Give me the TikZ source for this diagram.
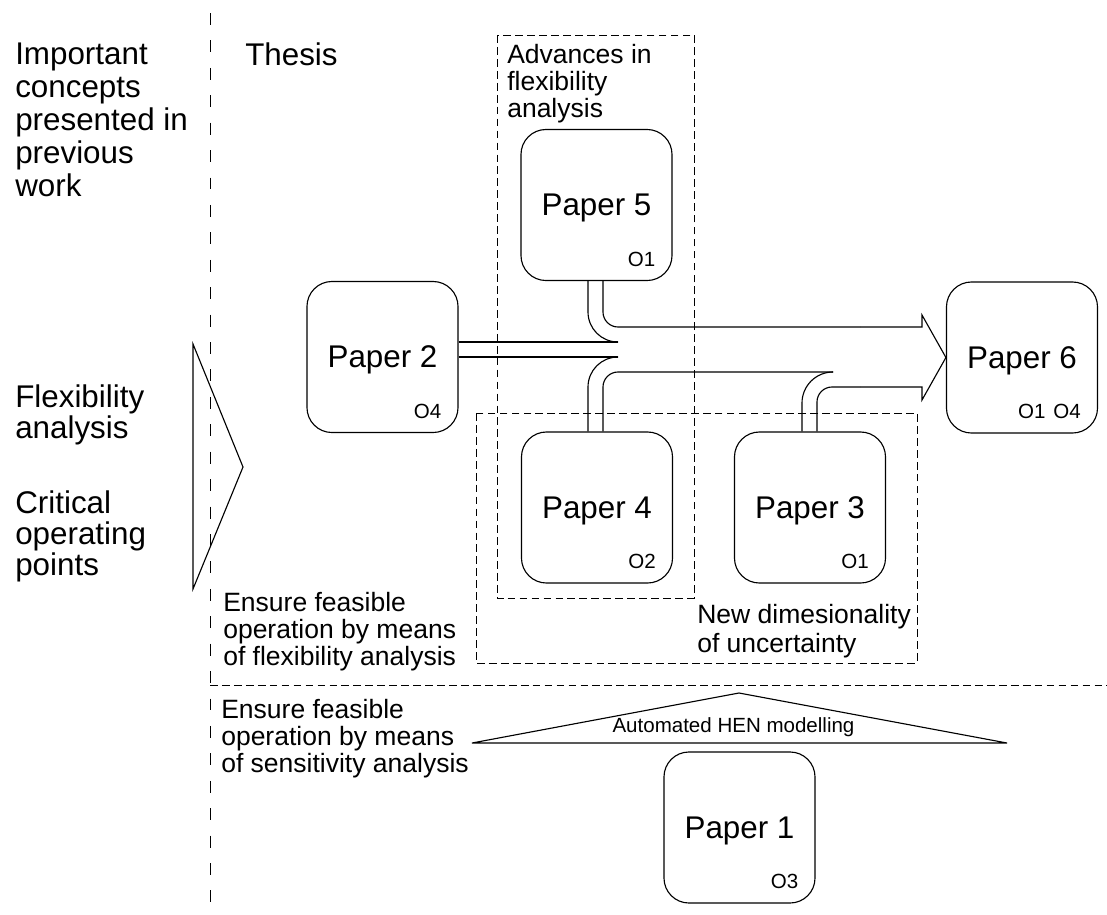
\documentclass[tikz,border=0pt]{standalone}
\usepackage{fontspec}
\setmainfont{Liberation Sans}
\usetikzlibrary{calc}
\newcommand{\headtext}{\fontsize{22.3}{23.5}\selectfont}
\newcommand{\notetext}{\fontsize{18.85}{19.2}\selectfont}
\newcommand{\tagtext}{\fontsize{14.6}{16}\selectfont}
\tikzset{
  paper/.style={draw, line width=0.8pt, rounded corners=0.625cm, minimum width=3.775cm, minimum height=3.775cm, inner sep=0pt, font=\headtext, text depth=0pt},
  otag/.style={font=\tagtext, anchor=base east, inner sep=0pt},
  heading/.style={font=\headtext, align=left, anchor=north west, inner sep=0pt},
  note/.style={font=\notetext, align=left, anchor=north west, inner sep=0pt},
  group/.style={line width=0.7pt, dash pattern=on 5.5pt off 3pt},
  divider/.style={line width=0.7pt, dash pattern=on 8.5pt off 11pt},
  pipe/.style={line width=0.8pt},
}

\begin{document}
\begin{tikzpicture}[x=0.025cm, y=-0.025cm]
  \useasboundingbox (0,0) rectangle (1107,915);
  % dividers
  \draw[divider] (210,13) -- (210,915);
  \draw[group] (210,685) -- (1107,685);
  % left column
  \node[heading] (prev) at (15,42.5) {Important\\concepts\\presented in\\previous\\work};
  \node[heading] (thesis) at (245,42.5) {Thesis};
  \node[heading, font=\fontsize{22.3}{22}\selectfont] (flex) at (15,384.5) {Flexibility\\analysis};
  \node[heading, font=\fontsize{22.3}{22}\selectfont] (crit) at (15,490.5) {Critical\\operating\\points};
  \draw[pipe] (193,344) -- (243,467) -- (193,589) -- cycle;
  % groups
  \draw[group] (497,35) rectangle (694,598);
  \draw[group] (476,413) rectangle (917,663);
  \node[note] (adv) at (507,44.3) {Advances in\\flexibility\\analysis};
  \node[note, font=\fontsize{18.85}{20.6}\selectfont] (newdim) at (697,604) {New dimesionality\\of uncertainty};
  \node[note] (flexop) at (223,592) {Ensure feasible\\operation by means\\of flexibility analysis};
  \node[note] (sensop) at (221,699) {Ensure feasible\\operation by means\\of sensitivity analysis};
  % papers
  \node[paper] (p2) at (382.5,357) {Paper 2};
  \node[paper] (p5) at (596.5,205) {Paper 5};
  \node[paper] (p4) at (597,507.5) {Paper 4};
  \node[paper] (p3) at (810,507.5) {Paper 3};
  \node[paper] (p6) at (1022,357.5) {Paper 6};
  \node[paper] (p1) at (739.5,827.5) {Paper 1};
  \node[otag] at ($(p2.south east)+(-17,-15)$) {O4};
  \node[otag] at ($(p5.south east)+(-17,-15)$) {O1};
  \node[otag] at ($(p4.south east)+(-17,-15)$) {O2};
  \node[otag] at ($(p3.south east)+(-17,-15)$) {O1};
  \node[otag] at ($(p6.south east)+(-17,-15)$) {O1\hspace{0.2cm}O4};
  \node[otag] at ($(p1.south east)+(-17,-15)$) {O3};
  % merging arrow into paper 6
  \coordinate (a5) at ($(p5.south)+(-8.5,0)$);
  \coordinate (b5) at ($(p5.south)+(6.5,0)$);
  \coordinate (a4) at ($(p4.north)+(-9,0)$);
  \coordinate (b4) at ($(p4.north)+(6,0)$);
  \coordinate (a3) at ($(p3.north)+(-8,0)$);
  \coordinate (b3) at ($(p3.north)+(7,0)$);
  \draw[pipe] ($(p2.east)+(0,-15)$) -- (618,342);
  \draw[pipe] (p2.east) -- (618,357);
  \draw[pipe, rounded corners=0.75cm] (a5) |- (618,342);
  \draw[pipe, rounded corners=0.75cm] (a4) |- (618,357);
  \draw[pipe, rounded corners=0.375cm] (b4) |- (833,372);
  \draw[pipe, rounded corners=0.775cm] (a3) |- (833,372);
  \draw[pipe, rounded corners=0.375cm] (b5) |- (860,327);
  \draw[pipe, rounded corners=0.375cm] (b3) |- (860,387);
  \draw[pipe] (860,327) -- (922,327) -- (922,315) -- (p6.west) -- (922,400) -- (922,387) -- (860,387);
  % modelling
  \draw[pipe] (472,743) -- (739,693) -- (1007,743) -- cycle;
  \node[font=\tagtext, anchor=base, inner sep=0pt] (hen) at (733.5,732) {Automated HEN modelling};
\end{tikzpicture}
\end{document}
